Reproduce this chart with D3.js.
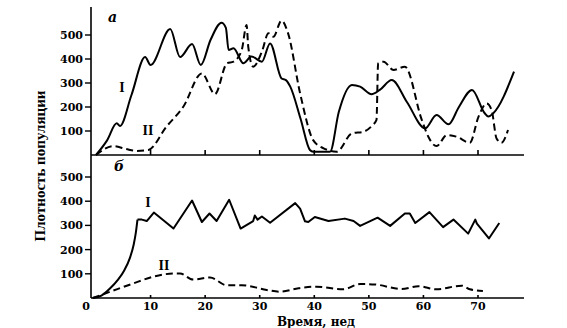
<!DOCTYPE html>
<html><head><meta charset="utf-8">
<script src="https://cdn.jsdelivr.net/npm/d3@7"></script>
<style>body{margin:0;background:#fff}svg{display:block}</style>
</head><body>
<script>
// ---- data (weeks, population density) ----
const topI = [[0,0],[2,60],[3.8,132],[4.4,121],[6.5,250],[9.0,408],[10.0,375],[13.6,525],[15.4,408],[17.6,462],[19.2,375],[21,480],[23.0,551],[23.8,530],[24.3,437],[25.2,445],[27,382],[28.5,410],[30.4,389],[31.9,465],[34.0,319],[34.8,312],[35.6,285],[37.5,150],[39.2,21],[39.8,14],[42.9,14],[44.5,180],[46.9,292],[48.4,285],[50.5,253],[52,271],[54.2,312],[57,220],[60.3,111],[62.4,167],[64.6,128],[66.5,200],[68.9,271],[71.2,175],[71.9,160],[72.8,174],[76.6,347]];
const topII = [[0,0],[3.2,37],[5.5,25],[7.5,17],[9.6,21],[12.9,118],[16,201],[19.4,340],[21.8,254],[24,382],[25.2,389],[26.7,437],[27.6,542],[27.9,451],[28.8,368],[30.4,431],[31.6,507],[32.5,493],[34,560],[35.2,507],[37.4,257],[39.8,62],[41.7,28],[44.1,14],[46.9,90],[49,97],[50.7,125],[51.4,146],[51.7,382],[52.7,389],[54.5,354],[56.6,368],[59.7,146],[60.9,76],[62.4,37],[64.3,83],[66.1,76],[68.5,51],[70.1,160],[71.6,215],[72.5,187],[73.4,69],[74.3,51],[75.5,104]];
const botIRise = [[-0.6,0],[1,10],[2.6,40],[4,75],[5.2,115],[6.2,165],[6.9,220],[7.3,270],[7.6,324]];
const botI = [[7.6,324],[8.4,324],[9.3,318],[10.6,353],[14.2,287],[17.6,403],[19.4,314],[20.8,349],[22.1,318],[24.4,406],[26.5,287],[28.8,318],[29.1,341],[29.6,324],[30.4,337],[31.9,311],[36.5,392],[37.4,369],[38.3,317],[38.9,314],[40.1,335],[42.6,318],[45.6,328],[47.2,318],[48.4,298],[51.6,332],[53.9,298],[56.6,349],[57.5,349],[58.5,310],[61.1,355],[63.6,293],[65.5,324],[68.2,266],[69.5,324],[69.8,307],[72,246],[73.9,310]];
const botII = [[-0.6,0],[2.6,26],[6.8,60],[10.5,88],[14.2,101],[15.4,101],[17.8,76],[20.9,85],[23.9,53],[26.7,53],[31.3,33],[33.7,26],[37.1,40],[40.4,47],[45.3,36],[48.4,58],[51.1,56],[56,37],[59.1,49],[62.4,36],[67,51],[68.5,36],[70.9,29]];
const xTicks = [0,10,20,30,40,50,60,70];
const yTicks = [100,200,300,400,500];
const panelLabels = ["а","б"];
const seriesLabels = ["I","II"];

const W = 567, H = 328;
const svg = d3.select("body").append("svg").attr("width", W).attr("height", H);
const x = d3.scaleLinear().domain([0,70]).range([96,478]);
const xAxisX0 = 91, xAxisX1 = 524;
const yTop = d3.scaleLinear().domain([0,500]).range([155,35]);
const yBot = d3.scaleLinear().domain([0,500]).range([298,177]);
const numFont = "'DejaVu Serif', serif";

// vertical axis
svg.append("line").attr("x1",xAxisX0).attr("x2",xAxisX0).attr("y1",7).attr("y2",yBot(0)).attr("stroke","#000").attr("stroke-width",1.6);

function panel(y, tickLen){
  svg.append("line").attr("x1",xAxisX0).attr("x2",xAxisX1).attr("y1",y(0)).attr("y2",y(0)).attr("stroke","#000").attr("stroke-width",1.6);
  svg.selectAll(null).data(xTicks.filter(d=>d>0)).enter().append("line")
    .attr("x1",d=>x(d)).attr("x2",d=>x(d)).attr("y1",y(0)).attr("y2",y(0)-tickLen)
    .attr("stroke","#000").attr("stroke-width",1.6);
  svg.selectAll(null).data(yTicks).enter().append("line")
    .attr("x1",xAxisX0-6).attr("x2",xAxisX0).attr("y1",d=>y(d)).attr("y2",d=>y(d))
    .attr("stroke","#000").attr("stroke-width",1.4);
  svg.selectAll(null).data(yTicks).enter().append("text")
    .attr("x",83).attr("y",d=>y(d)).attr("dy","0.36em").attr("text-anchor","end")
    .attr("font-family",numFont).attr("font-weight","bold").attr("font-size",11).text(d=>d);
}
panel(yTop,5);
panel(yBot,3);

svg.selectAll(null).data(xTicks).enter().append("text")
  .attr("x",d=>d===0?86:x(d)).attr("y",310).attr("text-anchor","middle")
  .attr("font-family",numFont).attr("font-weight","bold").attr("font-size",11).text(d=>d);

svg.append("text").attr("x",316).attr("y",326).attr("text-anchor","middle")
  .attr("font-family",numFont).attr("font-weight","bold").attr("font-size",12).text("Время, нед");
svg.append("text").attr("transform","translate(45,166) rotate(-90)").attr("text-anchor","middle")
  .attr("font-family","'Liberation Serif', serif").attr("font-weight","bold").attr("font-size",15).text("Плотность популяции");

svg.append("text").attr("x",108).attr("y",22).attr("font-family",numFont).attr("font-style","italic").attr("font-weight","bold").attr("font-size",14).text(panelLabels[0]);
svg.append("text").attr("x",114).attr("y",171).attr("font-family",numFont).attr("font-style","italic").attr("font-weight","bold").attr("font-size",14).text(panelLabels[1]);

const lab = (t,px,py)=>svg.append("text").attr("x",px).attr("y",py).attr("text-anchor","middle").attr("font-family","'Liberation Serif', serif").attr("font-weight","bold").attr("font-size",14).text(t);
lab(seriesLabels[0],122,92); lab(seriesLabels[1],148,135);
lab(seriesLabels[0],148,207); lab(seriesLabels[1],164,270);

function draw(data, y, curve, dashed){
  const line = d3.line().x(d=>x(d[0])).y(d=>y(d[1])).curve(curve);
  svg.append("path").attr("d",line(data)).attr("fill","none").attr("stroke","#000")
    .attr("stroke-width",2).attr("stroke-linejoin","round")
    .attr("stroke-dasharray",dashed?"7,4":null);
}
draw(topI, yTop, d3.curveMonotoneX, false);
draw(topII, yTop, d3.curveMonotoneX, true);
draw(botIRise, yBot, d3.curveMonotoneX, false);
draw(botI, yBot, d3.curveLinear, false);
draw(botII, yBot, d3.curveMonotoneX, true);
</script>
</body></html>
